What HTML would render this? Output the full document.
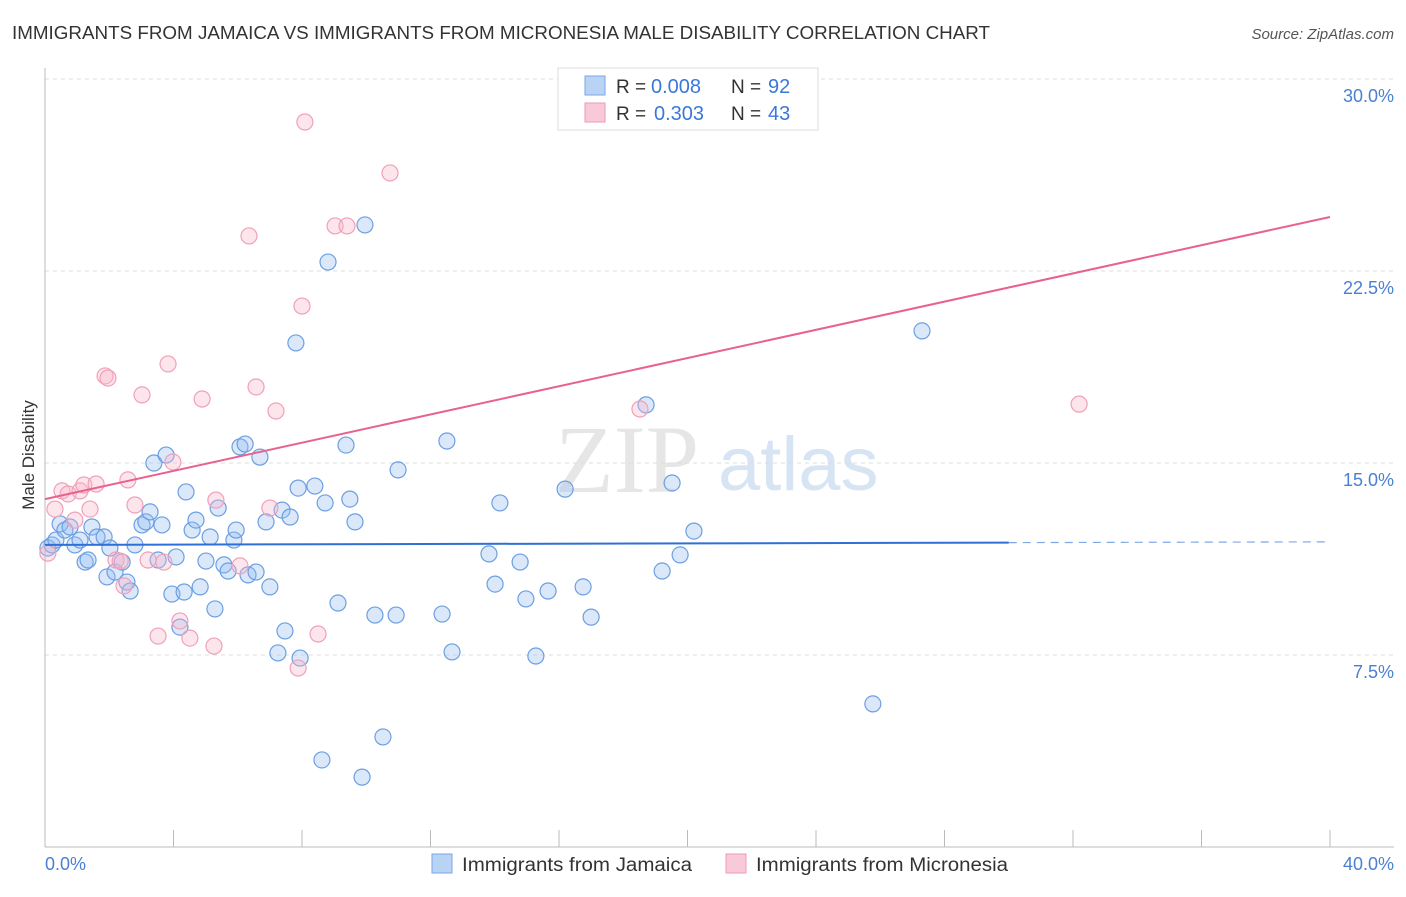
<!DOCTYPE html>
<html><head><meta charset="utf-8"><style>
body{margin:0;background:#fff;font-family:"Liberation Sans",sans-serif;}
</style></head><body>
<svg id="chart" width="1406" height="892" xmlns="http://www.w3.org/2000/svg" style="font-family:'Liberation Sans',sans-serif">
<text x="12" y="39" font-size="18" fill="#333" textLength="978" lengthAdjust="spacingAndGlyphs">IMMIGRANTS FROM JAMAICA VS IMMIGRANTS FROM MICRONESIA MALE DISABILITY CORRELATION CHART</text>
<text x="1394" y="39" font-size="15" fill="#555" text-anchor="end" font-style="italic">Source: ZipAtlas.com</text>
<text x="555" y="492" font-size="96" fill="#e6e6e6" font-family="Liberation Serif,serif">ZIP</text>
<text x="718" y="490" font-size="76" fill="#d6e4f4">atlas</text>
<g id="grid"></g>
<g id="axes"></g>
<g id="points"></g>
<g id="lines"></g>
<text transform="translate(34,455) rotate(-90)" font-size="17" fill="#333" text-anchor="middle">Male Disability</text>
<text x="45" y="870" font-size="18" fill="#4a7fd4">0.0%</text>
<text x="1394" y="870" font-size="18" fill="#4a7fd4" text-anchor="end">40.0%</text>
<g>
<rect x="558" y="68" width="260" height="62" fill="#fff" stroke="#ddd"/>
<rect x="585" y="76" width="20" height="19" fill="#b9d3f5" stroke="#7aa6e6"/>
<rect x="585" y="103" width="20" height="19" fill="#f8c9d8" stroke="#ee9ab5"/>
<text x="616" y="93" font-size="19" fill="#333">R =</text>
<text x="651" y="93" font-size="20" fill="#3a78d8">0.008</text>
<text x="731" y="93" font-size="19" fill="#333">N =</text>
<text x="768" y="93" font-size="20" fill="#3a78d8">92</text>
<text x="616" y="120" font-size="19" fill="#333">R =</text>
<text x="654" y="120" font-size="20" fill="#3a78d8">0.303</text>
<text x="731" y="120" font-size="19" fill="#333">N =</text>
<text x="768" y="120" font-size="20" fill="#3a78d8">43</text>
</g>
<g><rect x="432" y="854" width="20" height="19" fill="#b9d3f5" stroke="#7aa6e6"/><text x="462" y="871" font-size="19" fill="#333" textLength="230" lengthAdjust="spacingAndGlyphs">Immigrants from Jamaica</text></g>
<g><rect x="726" y="854" width="20" height="19" fill="#f8c9d8" stroke="#ee9ab5"/><text x="756" y="871" font-size="19" fill="#333" textLength="252" lengthAdjust="spacingAndGlyphs">Immigrants from Micronesia</text></g>
</svg>
<script>
const yTicks=[7.5,15,22.5,30];
const xTickVals=[0,4,8,12,16,20,24,28,32,36,40];
const blueX=[0.09,0.22,0.34,0.47,0.62,0.78,0.93,1.09,1.25,1.34,1.46,1.62,1.84,1.93,2.02,2.18,2.40,2.55,2.65,2.80,3.02,3.14,3.27,3.39,3.52,3.64,3.77,3.95,4.08,4.20,4.39,4.33,4.58,4.70,4.83,5.01,5.14,5.29,5.39,5.57,5.70,5.88,5.95,6.07,6.23,6.32,6.57,6.69,6.88,7.00,7.25,7.38,7.47,7.63,7.81,7.88,7.94,8.40,8.62,8.72,8.81,9.12,9.37,9.49,9.65,9.87,9.96,10.27,10.52,10.93,10.99,12.36,12.51,12.67,13.82,14.01,14.16,14.79,14.97,15.28,15.66,16.19,16.75,17.00,18.71,19.21,19.52,19.77,20.20,25.77,27.30];
const blueY=[11.68,11.80,11.99,12.62,12.38,12.50,11.80,11.99,11.13,11.21,12.50,12.11,12.11,10.55,11.68,10.74,11.13,10.35,10.00,11.80,12.58,12.70,13.09,15.00,11.21,12.58,15.31,9.88,11.33,8.59,13.87,9.96,12.38,12.77,10.16,11.17,12.11,9.30,13.24,11.02,10.78,11.99,12.38,15.63,15.74,10.63,10.74,15.23,12.70,10.16,7.58,13.16,8.44,12.89,19.69,14.02,7.38,14.10,3.40,13.44,22.85,9.53,15.70,13.59,12.70,2.73,24.30,9.06,4.30,9.06,14.73,9.10,15.86,7.62,11.45,10.27,13.44,11.13,9.69,7.46,10.00,13.98,10.16,8.98,17.27,10.78,14.22,11.41,12.34,5.59,20.16];
const pinkX=[0.09,0.31,0.53,0.72,0.93,1.09,1.21,1.40,1.59,1.87,1.96,2.21,2.34,2.46,2.58,2.80,3.02,3.21,3.52,3.70,3.83,3.98,4.20,4.51,4.89,5.26,5.32,6.07,6.35,6.57,7.00,7.19,7.88,8.00,8.09,8.50,9.03,9.40,10.74,18.52,32.19];
const pinkY=[11.48,13.20,13.91,13.79,12.77,13.91,14.14,13.20,14.18,18.40,18.32,11.21,11.17,10.20,14.34,13.36,17.66,11.21,8.24,11.13,18.87,15.04,8.83,8.16,17.50,7.85,13.55,10.98,23.87,17.97,13.24,17.03,6.99,21.13,28.32,8.32,24.26,24.26,26.33,17.11,17.30];
const trendBlue=[11.80,11.92];
const trendPink=[13.59,24.61];
const X=v=>45+v*32.125, Y=v=>847-v*25.6;
const NS='http://www.w3.org/2000/svg';
function mk(t,p,a){const e=document.createElementNS(NS,t);for(const k in a)e.setAttribute(k,a[k]);p.appendChild(e);return e;}
const grid=document.getElementById('grid'),axes=document.getElementById('axes'),pts=document.getElementById('points'),lines=document.getElementById('lines');
yTicks.forEach(v=>{
 const l=mk('line',grid,{x1:45,x2:1394,y1:Y(v),y2:Y(v),stroke:'#ddd','stroke-dasharray':'4,4'});
 
 
 const t=mk('text',grid,{x:1394,y:Y(v)+23,'font-size':18,fill:'#4a7fd4','text-anchor':'end'});
 t.textContent=v.toFixed(1)+'%';
 
 
});
const xa=mk('line',axes,{x1:45,x2:1394,y1:847,y2:847,stroke:'#bbb'});


const ya=mk('line',axes,{x1:45,x2:45,y1:68,y2:847,stroke:'#bbb'});


xTickVals.forEach(v=>{
 const t=mk('line',axes,{x1:X(v),x2:X(v),y1:830,y2:847,stroke:'#bbb'});
 
 
});
blueX.forEach((v,i)=>{
 const c=mk('circle',pts,{cx:X(v),cy:Y(blueY[i]),r:8,fill:'rgba(150,190,240,0.35)',stroke:'#6b9fe2','stroke-width':1.2});
 
 
});
pinkX.forEach((v,i)=>{
 const c=mk('circle',pts,{cx:X(v),cy:Y(pinkY[i]),r:8,fill:'rgba(248,180,200,0.35)',stroke:'#f0a0ba','stroke-width':1.2});
 
 
});
const bAt=x=>trendBlue[0]+(trendBlue[1]-trendBlue[0])*x/40;
const b1=mk('line',lines,{x1:X(0),y1:Y(bAt(0)),x2:X(30),y2:Y(bAt(30)),stroke:'#2f6fd6','stroke-width':2});


const b2=mk('line',lines,{x1:X(30),y1:Y(bAt(30)),x2:X(40),y2:Y(bAt(40)),stroke:'#2f6fd6','stroke-width':1.2,'stroke-dasharray':'8,6',opacity:0.6});


const p1=mk('line',lines,{x1:X(0),y1:Y(trendPink[0]),x2:X(40),y2:Y(trendPink[1]),stroke:'#e8618f','stroke-width':2});


</script>
</body></html>
